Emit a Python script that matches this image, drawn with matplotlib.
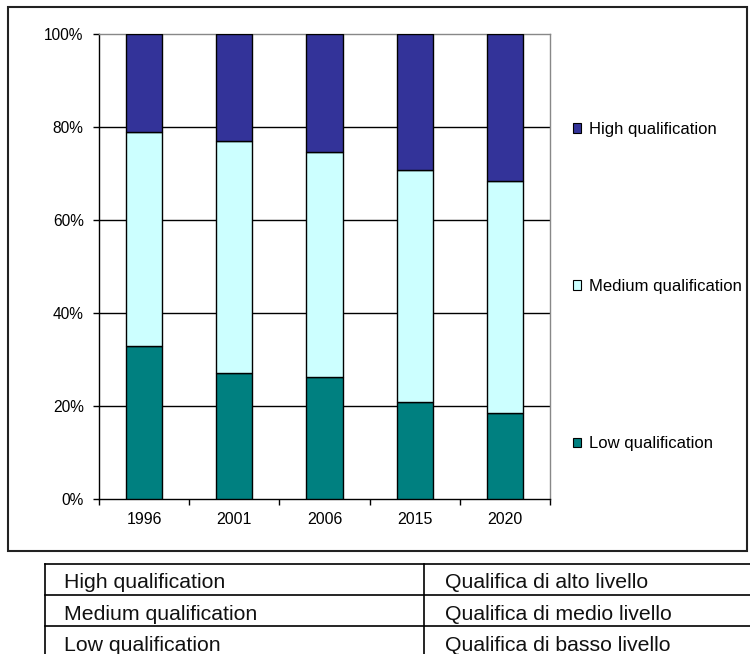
import matplotlib
matplotlib.use('Agg')
import matplotlib.pyplot as plt
from matplotlib.patches import Rectangle, Patch
from matplotlib.lines import Line2D
import numpy as np

matplotlib.rcParams['font.family'] = ['Liberation Sans', 'DejaVu Sans']

years = ['1996', '2001', '2006', '2015', '2020']
low = [32.8, 27.2, 26.2, 20.8, 18.5]
medium = [46.2, 49.7, 48.4, 49.9, 49.9]
high = [21.0, 23.1, 25.4, 29.3, 31.6]

series_names = ['Low qualification', 'Medium qualification', 'High qualification']
colors = ['#008080', '#CCFFFF', '#333399']

table_en = ['High qualification', 'Medium qualification', 'Low qualification']
table_it = ['Qualifica di alto livello', 'Qualifica di medio livello', 'Qualifica di basso livello']

W, H = 750, 654
fig = plt.figure(figsize=(7.5, 6.54), dpi=100)

# plot area in pixel terms (left, top, right, bottom)
L, T, R, B = 99, 34, 550, 499
ax = fig.add_axes([L / W, 1 - B / H, (R - L) / W, (B - T) / H])

x = np.arange(len(years))
bottom = np.zeros(len(years))
for vals, name, c in zip([low, medium, high], series_names, colors):
    ax.bar(x, vals, width=0.4, bottom=bottom, color=c, edgecolor='black',
           linewidth=1, label=name, zorder=3)
    bottom += np.array(vals)

ax.set_xlim(-0.5, len(years) - 0.5)
ax.set_ylim(0, 100)
ax.set_yticks([0, 20, 40, 60, 80, 100])
ax.set_yticklabels(['0%', '20%', '40%', '60%', '80%', '100%'])
ax.set_xticks(x)
ax.set_xticklabels(years)
ax.set_xticks(np.arange(len(years) + 1) - 0.5, minor=True)

ax.tick_params(axis='x', which='major', length=0, pad=9.5, labelsize=11.5)
ax.tick_params(axis='x', which='minor', length=4.5, width=1, direction='out', color='black')
ax.tick_params(axis='y', length=4.5, width=1, direction='out', pad=6.5, labelsize=11.2)

for yv in [20, 40, 60, 80]:
    ax.axhline(yv, color='black', linewidth=1, zorder=1)

ax.spines['left'].set_color('black')
ax.spines['bottom'].set_color('black')
ax.spines['top'].set_color('#888888')
ax.spines['right'].set_color('#888888')
for s in ax.spines.values():
    s.set_linewidth(1)

handles = [Patch(facecolor=colors[i], edgecolor='black', linewidth=0.8) for i in [2, 1, 0]]
labels = [series_names[i] for i in [2, 1, 0]]
fig.legend(handles, labels, loc='center left',
           bbox_to_anchor=(573 / W, 1 - 286.5 / H), frameon=False, fontsize=12,
           handlelength=0.5, handleheight=0.5, handletextpad=0.45,
           labelspacing=8.54, borderpad=0, borderaxespad=0)

# outer frame around the chart
fig.patches.append(Rectangle((8 / W, 1 - 551 / H), (747 - 8) / W, (551 - 7) / H,
                             transform=fig.transFigure, fill=False,
                             edgecolor='#222222', linewidth=1.5))

# table under the chart
def fy(py):
    return 1 - py / H

for py in [564, 594.5, 626]:
    fig.add_artist(Line2D([45 / W, 1], [fy(py), fy(py)], color='black', linewidth=1.2,
                          transform=fig.transFigure))
for px in [45, 424]:
    fig.add_artist(Line2D([px / W, px / W], [fy(564), 0], color='black', linewidth=1.2,
                          transform=fig.transFigure))

baselines = [588, 619.5, 651]
for en, it, bl in zip(table_en, table_it, baselines):
    fig.text(64 / W, fy(bl), en, fontsize=15.3, va='baseline', ha='left', color='#111111')
    fig.text(445 / W, fy(bl), it, fontsize=15.3, va='baseline', ha='left', color='#111111')

fig.savefig('out.png', dpi=100)
